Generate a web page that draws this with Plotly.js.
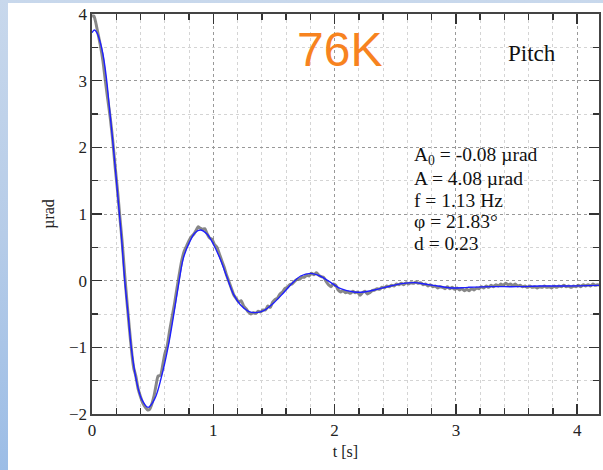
<!DOCTYPE html>
<html>
<head>
<meta charset="utf-8">
<script src="https://cdn.plot.ly/plotly-3.0.1.min.js"></script>
<style>
  html, body { margin: 0; padding: 0; width: 603px; height: 470px; overflow: hidden; }
  body { background: linear-gradient(180deg, #c8d8ec 0%, #b6cce8 50%, #9cbde6 100%); position: relative; }
  #chart { position: absolute; left: 8px; top: 3px; width: 595px; height: 467px; background: #ffffff; }
</style>
</head>
<body>
<div id="chart"></div>
<script>
// Measured pitch response (grey) in µrad versus time in seconds
const dataT = [0.00,0.015,0.03,0.05,0.07,0.09,0.11,0.13,0.15,0.17,0.19,0.21,0.23,0.25,0.27,0.29,0.31,0.33,0.345,0.36,0.38,0.40,0.42,0.44,0.46,0.475,0.49,0.51,0.53,0.545,0.565,0.58,0.60,0.62,0.64,0.66,0.68,0.70,0.72,0.74,0.76,0.78,0.80,0.82,0.84,0.86,0.875,0.89,0.91,0.93,0.95,0.97,0.99,1.01,1.03,1.05,1.07,1.09,1.11,1.13,1.15,1.17,1.19,1.21,1.23,1.25,1.27,1.29,1.31,1.33,1.35,1.37,1.39,1.41,1.43,1.45,1.47,1.49,1.51,1.53,1.55,1.57,1.59,1.61,1.63,1.65,1.67,1.69,1.71,1.73,1.75,1.77,1.79,1.81,1.83,1.85,1.87,1.89,1.91,1.93,1.95,1.97,1.99,2.01,2.03,2.05,2.07,2.09,2.11,2.13,2.15,2.17,2.19,2.21,2.23,2.25,2.27,2.29,2.31,2.33,2.35,2.37,2.39,2.41,2.43,2.45,2.47,2.49,2.51,2.53,2.55,2.57,2.59,2.61,2.63,2.65,2.67,2.69,2.71,2.73,2.75,2.77,2.79,2.81,2.83,2.85,2.87,2.89,2.91,2.93,2.95,2.97,2.99,3.01,3.03,3.05,3.07,3.09,3.11,3.13,3.15,3.17,3.19,3.21,3.23,3.25,3.27,3.29,3.31,3.33,3.35,3.37,3.39,3.41,3.43,3.45,3.47,3.49,3.51,3.53,3.55,3.57,3.59,3.61,3.63,3.65,3.67,3.69,3.71,3.73,3.75,3.77,3.79,3.81,3.83,3.85,3.87,3.89,3.91,3.93,3.95,3.97,3.99,4.01,4.03,4.05,4.07,4.09,4.11,4.13,4.15,4.17,4.19];
const dataV = [3.97,3.97,3.88,3.70,3.52,3.30,3.00,2.72,2.45,2.12,1.72,1.36,0.95,0.55,0.08,-0.35,-0.75,-1.12,-1.32,-1.42,-1.62,-1.74,-1.84,-1.90,-1.94,-1.93,-1.87,-1.74,-1.55,-1.43,-1.42,-1.30,-1.10,-0.98,-0.75,-0.55,-0.35,-0.12,0.10,0.30,0.44,0.52,0.60,0.66,0.70,0.76,0.81,0.79,0.77,0.78,0.70,0.64,0.62,0.54,0.50,0.40,0.30,0.20,0.08,-0.02,-0.12,-0.22,-0.27,-0.32,-0.30,-0.38,-0.42,-0.47,-0.50,-0.48,-0.49,-0.46,-0.47,-0.44,-0.44,-0.38,-0.40,-0.32,-0.28,-0.26,-0.20,-0.17,-0.12,-0.10,-0.06,-0.05,-0.01,0.02,0.02,0.05,0.05,0.08,0.07,0.11,0.09,0.12,0.08,0.06,0.05,-0.01,-0.06,-0.09,-0.05,-0.07,-0.14,-0.17,-0.15,-0.18,-0.17,-0.19,-0.16,-0.18,-0.17,-0.22,-0.18,-0.16,-0.20,-0.18,-0.15,-0.14,-0.12,-0.13,-0.10,-0.11,-0.08,-0.09,-0.07,-0.08,-0.05,-0.06,-0.04,-0.06,-0.03,-0.05,-0.03,-0.04,-0.02,-0.04,-0.03,-0.06,-0.05,-0.08,-0.06,-0.09,-0.08,-0.11,-0.09,-0.10,-0.12,-0.09,-0.12,-0.10,-0.13,-0.11,-0.14,-0.12,-0.15,-0.13,-0.15,-0.12,-0.14,-0.11,-0.12,-0.09,-0.11,-0.08,-0.10,-0.07,-0.09,-0.06,-0.08,-0.05,-0.07,-0.04,-0.06,-0.05,-0.07,-0.05,-0.08,-0.07,-0.09,-0.08,-0.10,-0.08,-0.10,-0.09,-0.11,-0.09,-0.10,-0.08,-0.10,-0.09,-0.11,-0.08,-0.10,-0.08,-0.09,-0.07,-0.09,-0.08,-0.10,-0.08,-0.09,-0.07,-0.09,-0.06,-0.08,-0.06,-0.08,-0.05,-0.07,-0.06,-0.07];

// Damped-oscillation fit (blue)
const fitT = [0.00,0.02,0.04,0.064,0.09,0.118,0.146,0.174,0.20,0.223,0.242,0.27,0.298,0.325,0.366,0.41,0.463,0.518,0.573,0.628,0.67,0.71,0.755,0.81,0.85,0.893,0.948,1.00,1.058,1.113,1.168,1.223,1.29,1.347,1.416,1.50,1.58,1.66,1.72,1.80,1.88,1.97,2.05,2.16,2.24,2.35,2.46,2.57,2.66,2.74,2.85,2.96,3.1,3.3,3.5,3.7,3.9,4.2];
const fitV = [3.72,3.76,3.72,3.60,3.40,3.05,2.55,2.04,1.53,1.06,0.68,0.00,-0.51,-1.02,-1.50,-1.78,-1.90,-1.77,-1.44,-0.99,-0.55,-0.10,0.35,0.60,0.72,0.76,0.70,0.55,0.32,0.05,-0.21,-0.36,-0.46,-0.48,-0.45,-0.33,-0.18,-0.02,0.07,0.11,0.07,-0.03,-0.12,-0.17,-0.17,-0.13,-0.08,-0.04,-0.03,-0.05,-0.08,-0.11,-0.10,-0.09,-0.09,-0.08,-0.08,-0.07];

// Fit parameters shown on the chart
const fitLines = ["A<sub>0</sub> = -0.08 µrad", "A = 4.08 µrad", "f = 1.13 Hz", "φ = 21.83°", "d = 0.23"];
const tempLabel = "76K";
const axisLabel = "Pitch";

const serif = "Liberation Serif, Times New Roman, serif";

const traces = [
  { x: dataT, y: dataV, type: "scatter", mode: "lines",
    line: { color: "rgba(105,105,105,0.8)", width: 3, shape: "spline", smoothing: 0.6 },
    hoverinfo: "skip", showlegend: false },
  { x: fitT, y: fitV, type: "scatter", mode: "lines",
    line: { color: "#1e1eff", width: 1.4, shape: "spline", smoothing: 1 },
    hoverinfo: "skip", showlegend: false }
];

const axisCommon = {
  ticks: "inside", ticklen: 10, tickwidth: 1.4, tickcolor: "#333",
  showline: true, linecolor: "#444", linewidth: 1.6, mirror: "allticks",
  showgrid: true, gridcolor: "#999999", griddash: "dot", gridwidth: 1,
  zeroline: false, tickfont: { family: serif, size: 17, color: "#222" }
};

const layout = {
  width: 595, height: 467,
  margin: { l: 84, r: 4, t: 11, b: 56 },
  paper_bgcolor: "#ffffff", plot_bgcolor: "#ffffff",
  font: { family: serif, color: "#222" },
  xaxis: Object.assign({}, axisCommon, {
    range: [0, 4.18], tick0: 0, dtick: 1,
    minor: { dtick: 0.2, ticks: "inside", ticklen: 6, tickcolor: "#333",
             showgrid: true, gridcolor: "#d4d4d4", griddash: "dot", gridwidth: 1 },
    title: { text: "t [s]", font: { family: serif, size: 16, color: "#222" }, standoff: 7 }
  }),
  yaxis: Object.assign({}, axisCommon, {
    range: [-2, 4], tick0: 0, dtick: 1,
    minor: { dtick: 0.5, ticks: "inside", ticklen: 6, tickcolor: "#333",
             showgrid: true, gridcolor: "#d4d4d4", griddash: "dot", gridwidth: 1 },
    title: { text: "µrad", font: { family: serif, size: 16, color: "#222" }, standoff: 10 }
  }),
  annotations: [
    { text: tempLabel, xref: "paper", yref: "paper", x: 0.488, y: 0.91,
      xanchor: "center", yanchor: "middle", showarrow: false,
      font: { family: "Liberation Sans, Arial, sans-serif", size: 48, color: "#f7831f" } },
    { text: axisLabel, xref: "paper", yref: "paper", x: 0.868, y: 0.902,
      xanchor: "center", yanchor: "middle", showarrow: false,
      font: { family: serif, size: 23, color: "#111" } }
  ].concat(fitLines.map((s, i) => ({
    text: s, xref: "paper", yref: "paper", x: 0.632, y: 0.644 - i * 0.054,
    xanchor: "left", yanchor: "middle", showarrow: false, height: 20,
    font: { family: serif, size: 19.5, color: "#111" }
  })))
};

Plotly.newPlot("chart", traces, layout, { staticPlot: true, displayModeBar: false });
</script>
</body>
</html>
